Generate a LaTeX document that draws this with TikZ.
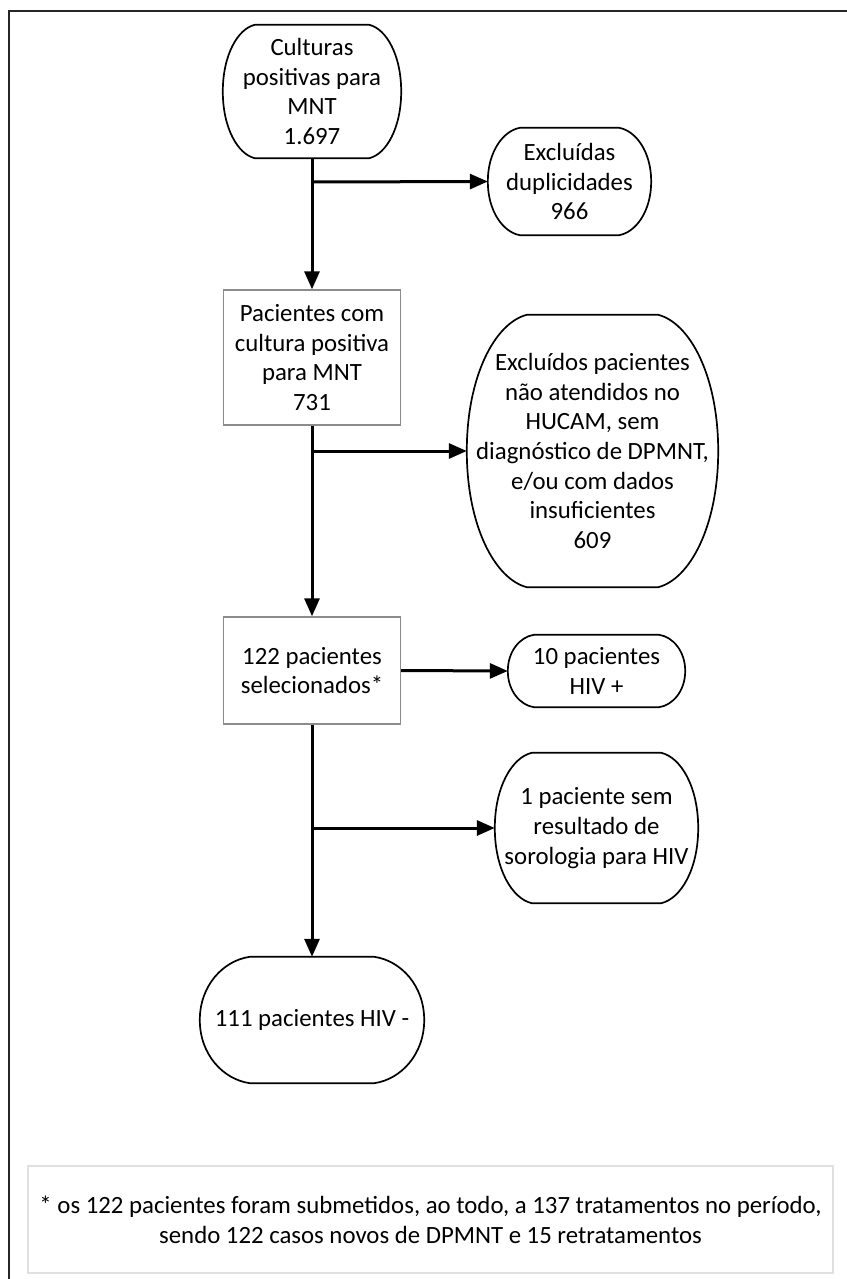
\documentclass[tikz,border=0pt]{standalone}
\usepackage{fontspec}
\setmainfont{Carlito}
\usetikzlibrary{arrows.meta}
% terminator outline round a node: #2 = horizontal reach of the ends, #3 = half height
\newcommand\termdraw[3]{%
  \draw[termline] ([xshift=#2pt]#1.north west) -- ([xshift=-#2pt]#1.north east)
    .. controls ([xshift=-0.47*#2pt, yshift=-0.06*#3pt]#1.north east) and ([yshift=0.55*#3pt]#1.east) .. (#1.east)
    .. controls ([yshift=-0.55*#3pt]#1.east) and ([xshift=-0.47*#2pt, yshift=0.06*#3pt]#1.south east) .. ([xshift=-#2pt]#1.south east)
    -- ([xshift=#2pt]#1.south west)
    .. controls ([xshift=0.47*#2pt, yshift=0.06*#3pt]#1.south west) and ([yshift=-0.55*#3pt]#1.west) .. (#1.west)
    .. controls ([yshift=0.55*#3pt]#1.west) and ([xshift=0.47*#2pt, yshift=-0.06*#3pt]#1.north west) .. cycle;}
\begin{document}
\begin{tikzpicture}[x=1pt,y=-1pt,
  every node/.style={font=\fontsize{24.8}{29.6}\selectfont, align=center, inner sep=0pt},
  termline/.style={draw=black, line width=1.7pt},
  term/.style={},
  gbox/.style={draw=black!45, line width=1.4pt},
  flow/.style={line width=3pt, -{Triangle[length=18pt,width=15pt]}},
  frame/.style={line width=2.6pt, draw=black!85}
]
\useasboundingbox (0,0) rectangle (846,1279);
% outer frame (top and left edges)
\draw[frame] (9,1285) -- (9,11) -- (852,11);

\node[term, minimum width=178pt, minimum height=133pt] (cult) at (312,91.5) {Culturas\\positivas para\\MNT\\1.697};
\node[term, minimum width=163pt, minimum height=107pt] (exd) at (569.5,181.5) {Excluídas\\duplicidades\\966};
\node[gbox, minimum width=177pt, minimum height=135pt] (pac) at (312,357.5) {Pacientes com\\cultura positiva\\para MNT\\731};
\node[term, minimum width=251pt, minimum height=272pt] (exp) at (592.5,451) {Excluídos pacientes\\não atendidos no\\HUCAM, sem\\diagnóstico de DPMNT,\\e/ou com dados\\insuficientes\\609};
\node[gbox, minimum width=177pt, minimum height=107pt] (sel) at (312,670.5) {122 pacientes\\selecionados*};
\node[term, minimum width=177pt, minimum height=72pt] (hivp) at (596.5,671) {10 pacientes\\HIV +};
\node[term, minimum width=203pt, minimum height=150pt] (sem) at (596.5,828) {1 paciente sem\\resultado de\\sorologia para HIV};
\node[term, minimum width=224pt, minimum height=126pt] (hivn) at (312,1020) {111 pacientes HIV -};
\node[draw=black!12, line width=1.2pt, minimum width=805pt, minimum height=107pt] (foot) at (430.5,1219.5) {* os 122 pacientes foram submetidos, ao todo, a 137 tratamentos no período,\\sendo 122 casos novos de DPMNT e 15 retratamentos};

\termdraw{cult}{32}{66.5}
\termdraw{exd}{32}{53.5}
\termdraw{exp}{60}{136}
\termdraw{hivp}{26}{36}
\termdraw{sem}{37}{75}
\termdraw{hivn}{50}{63}

\coordinate (j1) at (312,182);
\coordinate (j2) at (312,451);
\coordinate (j3) at (312,828);

\draw[flow] (cult.south) -- (pac.north);
\draw[flow] (j1) -- (exd.west);
\draw[flow] (pac.south) -- (sel.north);
\draw[flow] (j2) -- (exp.west);
\draw[flow] (sel.east) -- (hivp.west);
\draw[flow] (sel.south) -- (hivn.north);
\draw[flow] (j3) -- (sem.west);
\end{tikzpicture}
\end{document}
